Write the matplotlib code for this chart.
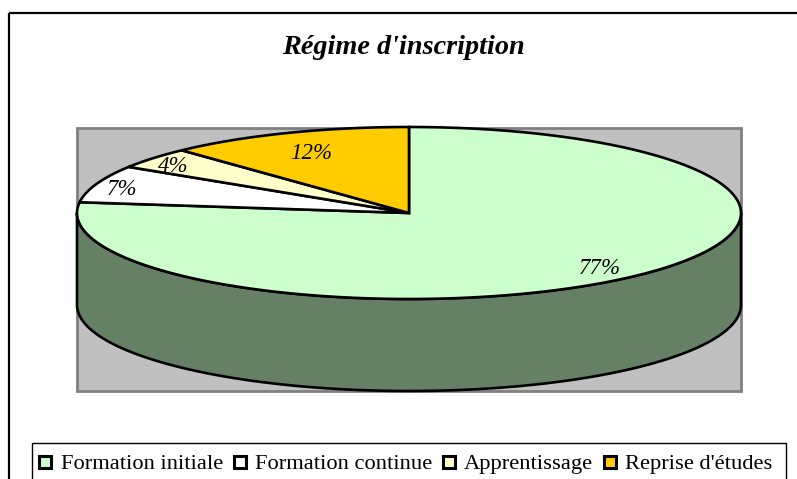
import numpy as np
import matplotlib
matplotlib.use("Agg")
import matplotlib.pyplot as plt
from matplotlib.patches import Polygon, Rectangle
from matplotlib.lines import Line2D
from matplotlib.colors import to_rgb

# données
categories = ["Formation initiale", "Formation continue", "Apprentissage", "Reprise d'études"]
values = [77, 7, 4, 12]
colors = ["#CCFFCC", "#FFFFFF", "#FFFFCC", "#FFCC00"]
title = "Régime d'inscription"

# géométrie (pixels)
W, H = 797, 479
cx, cy = 409, 213
rx, ry = 332, 86
depth = 92
label_pos = [(0.87, 0.86), (0.92, 0.79), (0.92, 0.84), (0.80, 0.75)]

plt.rcParams["font.family"] = ["Liberation Serif", "DejaVu Serif"]

fig = plt.figure(figsize=(W / 100, H / 100), dpi=100)
ax = fig.add_axes([0, 0, 1, 1])
ax.set_xlim(0, W)
ax.set_ylim(H, 0)
ax.axis("off")

# cadre + zone de tracé
ax.add_patch(Rectangle((9, 13), 820, 500, fill=False, ec="black", lw=1.6, zorder=1))
ax.add_patch(Rectangle((77, 128), 664, 263, fc="#C0C0C0", ec="#808080", lw=2, zorder=1))

def pt(theta, dy=0):
    t = np.radians(theta)
    return cx + rx * np.cos(t), cy + dy - ry * np.sin(t)

total = float(sum(values))
start = 90.0
slices = []
for v in values:
    sweep = 360.0 * v / total
    slices.append((start - sweep, start))
    start -= sweep

# faces latérales (partie avant visible)
for (a1, a2), col in zip(slices, colors):
    side = tuple(c * 0.5 for c in to_rgb(col))
    for k in (-1, 0, 1):
        lo = max(a1, -180 + 360 * k)
        hi = min(a2, 360 * k)
        if lo >= hi:
            continue
        th = np.linspace(lo, hi, 120)
        top = [pt(t) for t in th]
        bot = [pt(t, depth) for t in th[::-1]]
        ax.add_patch(Polygon(top + bot, closed=True, fc=side, ec="black",
                             lw=1.9, joinstyle="round", zorder=2))

# dessus
for (a1, a2), col in zip(slices, colors):
    th = np.linspace(a1, a2, 200)
    verts = [(cx, cy)] + [pt(t) for t in th]
    ax.add_patch(Polygon(verts, closed=True, fc=col, ec="black", lw=1.9,
                         joinstyle="miter", zorder=3))

# étiquettes
for (a1, a2), v, (fx, fy) in zip(slices, values, label_pos):
    m = np.radians((a1 + a2) / 2)
    x = cx + fx * rx * np.cos(m)
    y = cy - fy * ry * np.sin(m)
    ax.text(x, y, f"{v}%", ha="center", va="center", fontsize=16.5,
            style="italic", zorder=5)

ax.text(403, 47, title, ha="center", va="center", fontsize=20.3,
        style="italic", weight="bold")

# légende (cadre dessiné à part)
ax.add_patch(Rectangle((32, 443), 754, 60, fc="white", ec="black", lw=1, zorder=4))
handles = [Line2D([], [], marker="s", ls="none", ms=8.2, mfc=c, mec="black", mew=2.2)
           for c in colors]
leg = ax.legend(handles, categories, loc="center left", bbox_to_anchor=(37, 464),
                bbox_transform=ax.transData, ncol=4, fontsize=16.2, frameon=False,
                handlelength=0.75, handletextpad=0.3, columnspacing=0.37,
                borderpad=0, borderaxespad=0)
leg.set_zorder(5)

fig.savefig("out.png", dpi=100)
